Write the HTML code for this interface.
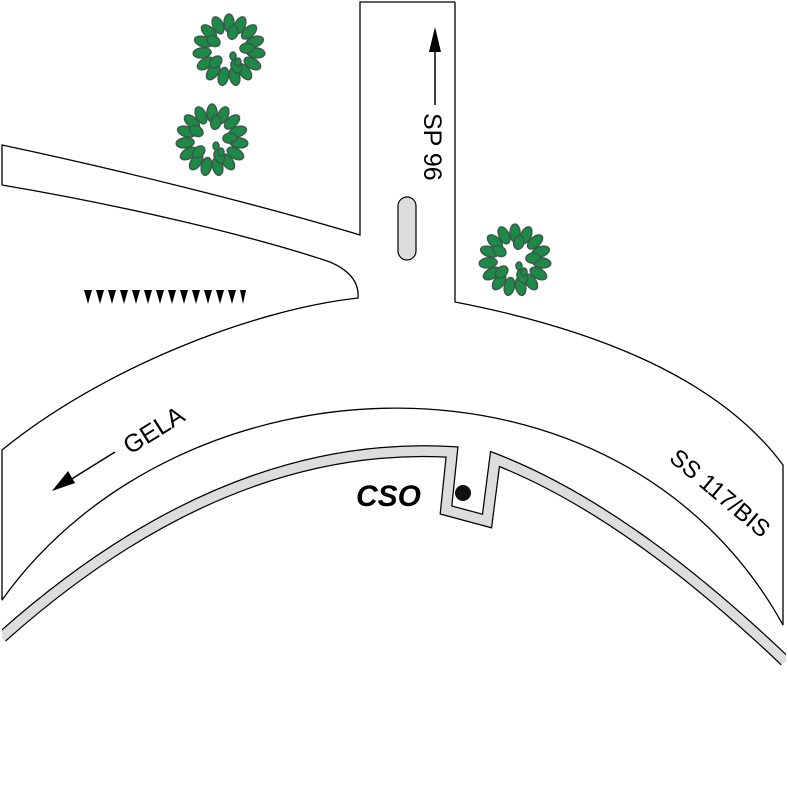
<!DOCTYPE html>
<html><head><meta charset="utf-8"><style>html,body{margin:0;padding:0;background:#fff}svg{display:block}</style></head>
<body>
<svg width="788" height="788" viewBox="0 0 788 788" xmlns="http://www.w3.org/2000/svg">
<defs>
<g id="tree">
  <g fill="#1e8a48" stroke="#3b5a4a" stroke-width="1.5">
    <ellipse cx="0" cy="-27" rx="5" ry="9"/>
    <ellipse cx="0" cy="-27" rx="5" ry="9" transform="rotate(24)"/>
    <ellipse cx="0" cy="-27" rx="5" ry="9" transform="rotate(48)"/>
    <ellipse cx="0" cy="-27" rx="5" ry="9" transform="rotate(72)"/>
    <ellipse cx="0" cy="-27" rx="5" ry="9" transform="rotate(96)"/>
    <ellipse cx="0" cy="-27" rx="5" ry="9" transform="rotate(120)"/>
    <ellipse cx="0" cy="-27" rx="5" ry="9" transform="rotate(144)"/>
    <ellipse cx="0" cy="-27" rx="5" ry="9" transform="rotate(168)"/>
    <ellipse cx="0" cy="-27" rx="5" ry="9" transform="rotate(192)"/>
    <ellipse cx="0" cy="-27" rx="5" ry="9" transform="rotate(216)"/>
    <ellipse cx="0" cy="-27" rx="5" ry="9" transform="rotate(240)"/>
    <ellipse cx="0" cy="-27" rx="5" ry="9" transform="rotate(264)"/>
    <ellipse cx="0" cy="-27" rx="5" ry="9" transform="rotate(288)"/>
    <ellipse cx="0" cy="-27" rx="5" ry="9" transform="rotate(312)"/>
    <ellipse cx="0" cy="-27" rx="5" ry="9" transform="rotate(336)"/>
    <ellipse cx="0" cy="-18" rx="5" ry="7" transform="rotate(12)"/>
    <ellipse cx="0" cy="-18" rx="5" ry="7" transform="rotate(84)"/>
    <ellipse cx="0" cy="-18" rx="5" ry="7" transform="rotate(156)"/>
    <ellipse cx="0" cy="-18" rx="5" ry="7" transform="rotate(228)"/>
    <ellipse cx="0" cy="-18" rx="5" ry="7" transform="rotate(300)"/>
    <ellipse cx="4" cy="6" rx="3" ry="4"/>
    <ellipse cx="9" cy="12" rx="3" ry="4"/>
  </g>
</g>
</defs>

<g fill="none" stroke="#000" stroke-width="1.3">
  <path d="M2,185 L2,145 C120,170 260,205 360,235 L360,2 L455,2"/>
  <path d="M2,185 C120,205 250,235 330,262 Q360,275 358,298 C250,310 100,370 2,450 L2,600 C180,350 620,330 783,625 L783,465 C720,380 600,330 455,302 L455,2"/>
</g>

<path d="M2,637 C150,505 300,443 452,452 L446,510 L487,521 L495,459 C600,500 700,580 785,661" fill="none" stroke="#000" stroke-width="12" stroke-linejoin="miter"/>
<path d="M2,637 C150,505 300,443 452,452 L446,510 L487,521 L495,459 C600,500 700,580 785,661" fill="none" stroke="#ddd" stroke-width="9.5" stroke-linejoin="miter"/>
<rect x="0" y="600" width="2" height="60" fill="#fff"/>
<rect x="786" y="620" width="2" height="60" fill="#fff"/>

<rect x="398" y="197" width="18" height="63" rx="9" fill="#ddd" stroke="#000" stroke-width="1.2"/>

<use href="#tree" x="229" y="50"/>
<use href="#tree" x="212" y="140"/>
<use href="#tree" x="515" y="260"/>

<g fill="#000">
  <path d="M84,290 l8,0 l-4,14z M96,290 l8,0 l-4,14z M108,290 l8,0 l-4,14z M120,290 l8,0 l-4,14z M132,290 l8,0 l-4,14z M144,290 l8,0 l-4,14z M156,290 l8,0 l-4,14z M168,290 l8,0 l-4,14z M180,290 l8,0 l-4,14z M192,290 l8,0 l-4,14z M204,290 l8,0 l-4,14z M216,290 l8,0 l-4,14z M228,290 l8,0 l-4,14z M240,290 l6,0 l-3,14z"/>
</g>

<line x1="435" y1="45" x2="435" y2="105" stroke="#000" stroke-width="1.5"/>
<path d="M435,27 L429,52 L441,52 Z" fill="#000"/>
<line x1="115" y1="452" x2="70" y2="480" stroke="#000" stroke-width="1.5"/>
<path d="M52,491 L68,471 L75,483 Z" fill="#000"/>

<g font-family="Liberation Sans, sans-serif" fill="#000">
  <text x="0" y="0" font-size="25" transform="translate(424,113) rotate(90)">SP 96</text>
  <text x="0" y="0" font-size="25" transform="translate(130,455) rotate(-32)">GELA</text>
  <text x="0" y="0" font-size="24" transform="translate(668,460) rotate(40)">SS 117/BIS</text>
  <text x="356" y="506" font-size="30" font-weight="bold" font-style="italic">CSO</text>
</g>
<circle cx="463" cy="493" r="8" fill="#111"/>
</svg>
</body></html>
